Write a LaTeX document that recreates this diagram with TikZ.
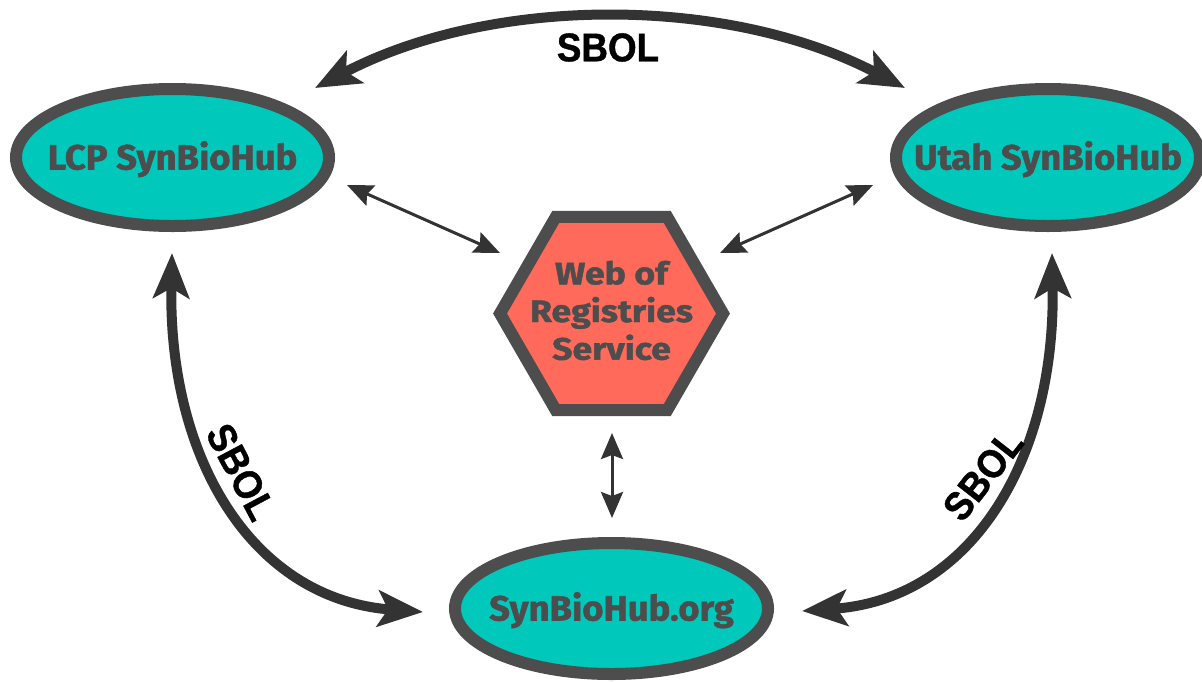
\documentclass[tikz,border=0pt]{standalone}
\usepackage{fontspec}
\setmainfont{Fira Sans}
\newfontfamily\hubfont[FakeStretch=1.04,FakeBold=1.5]{Fira Sans}
\newfontfamily\hexfont[FakeStretch=1.15,FakeBold=1.5]{Fira Sans}
\newfontfamily\sbolfont[FakeStretch=0.92,FakeBold=1]{Liberation Sans}
\usetikzlibrary{arrows.meta,shapes.geometric}
\definecolor{hubfill}{RGB}{0,200,187}
\definecolor{hexfill}{RGB}{255,106,90}
\definecolor{bordc}{RGB}{77,77,77}
\definecolor{arrowc}{RGB}{51,51,51}
\begin{document}
\begin{tikzpicture}[x=1pt,y=-1pt,
 hub/.style={ellipse, draw=bordc, fill=hubfill, line width=12pt, inner sep=0pt,
   minimum width=313pt, minimum height=137pt},
 hubtext/.style={text=bordc, font=\hubfont\fontsize{35}{40}\selectfont\bfseries,
   text height=24pt, text depth=0pt, inner sep=0pt},
 hexa/.style={regular polygon, regular polygon sides=6, draw=bordc, fill=hexfill,
   line width=12pt, inner sep=0pt, minimum size=223pt},
 hextext/.style={text=bordc, font=\hexfont\fontsize{31}{37.7}\selectfont\bfseries,
   align=center, inner sep=0pt},
 bigtip/.tip={Stealth[length=45pt,width=36pt,inset=10pt]},
 thintip/.tip={Stealth[length=26pt,width=22pt,inset=4pt]},
 bigarrow/.style={draw=arrowc, line width=10pt, bigtip-bigtip},
 thinarrow/.style={draw=arrowc, line width=3pt, thintip-thintip},
 sboltext/.style={text=black, font=\sbolfont\fontsize{40}{44}\selectfont\bfseries, inner sep=0pt}
]
\useasboundingbox (0,0) rectangle (1202,681);

% nodes
\node[hub, label={[hubtext]center:LCP SynBioHub}] (lcp) at (172.5,157.5) {};
\node[hub, minimum width=304pt, label={[hubtext]center:Utah SynBioHub}] (utah) at (1048,157.5) {};
\node[hub, minimum height=131pt, label={[hubtext]center:SynBioHub.org}] (sbh) at (611.5,608.5) {};
\node[hexa] (wrs) at (611.5,313.5) {};
\node[hextext, yshift=3pt] (wrstext) at (wrs.center) {Web of\\Registries\\Service};

% arrow end points
\coordinate (tl) at (315,88);
\coordinate (tr) at (905,88);
\coordinate (lt) at (172,253);
\coordinate (lb) at (423,612);
\coordinate (rt) at (1052,253);
\coordinate (rb) at (802,611);
\coordinate (a1) at (347,185);
\coordinate (a2) at (500,253);
\coordinate (b1) at (873,185);
\coordinate (b2) at (720,253);
\coordinate (c1) at (612,433);
\coordinate (c2) at (612,518);

% big SBOL arrows
\draw[bigarrow] (tl) .. controls (492,-5) and (728,-5) .. (tr);
\draw[bigarrow] (lt) .. controls (168,460) and (253,599) .. (lb);
\draw[bigarrow] (rt) .. controls (1056,460) and (971,599) .. (rb);

\node[sboltext] (s1) at (608,47.5) {SBOL};
\node[sboltext, rotate=-62] (s2) at (241,472) {SBOL};
\node[sboltext, rotate=52] (s3) at (983,475) {SBOL};

% thin arrows
\draw[thinarrow] (a1) -- (a2);
\draw[thinarrow] (b1) -- (b2);
\draw[thinarrow] (c1) -- (c2);
\end{tikzpicture}
\end{document}
